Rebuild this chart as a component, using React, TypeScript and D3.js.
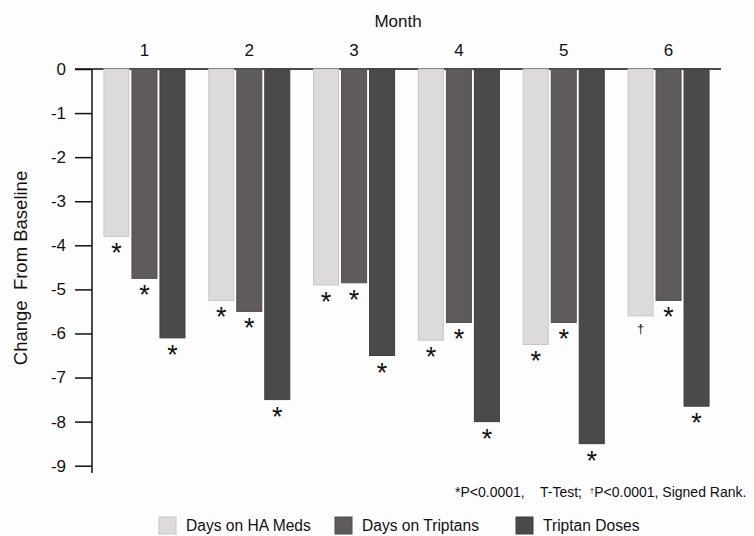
import { useEffect, useRef } from 'react';
import * as d3 from 'd3';

const months = ['1', '2', '3', '4', '5', '6'];
const seriesNames = ['Days on HA Meds', 'Days on Triptans', 'Triptan Doses'];
const haMeds = [-3.8, -5.25, -4.9, -6.15, -6.25, -5.6];
const triptanDays = [-4.75, -5.5, -4.85, -5.75, -5.75, -5.25];
const triptanDoses = [-6.1, -7.5, -6.5, -8.0, -8.5, -7.65];
const haMarks = ['*', '*', '*', '*', '*', '\u2020'];
const dayMarks = ['*', '*', '*', '*', '*', '*'];
const doseMarks = ['*', '*', '*', '*', '*', '*'];
const yTicks = [0, -1, -2, -3, -4, -5, -6, -7, -8, -9];

const colors = ['#dcdbd9', '#5f5b5a', '#4a4a4a'];
const strokes = ['#c8c7c5', '#524e4d', '#3e3e3e'];

const App = () => {
    const ref = useRef<HTMLDivElement>(null);

    useEffect(() => {
        const W = 754, H = 536;
        const font = '"Liberation Sans", Arial, sans-serif';
        const svg = d3.select(ref.current)
            .append('svg')
            .attr('width', W)
            .attr('height', H)
            .style('display', 'block')
            .style('font-family', font);

        svg.append('rect').attr('width', W).attr('height', H).attr('fill', '#fdfdfd');

        const values = [haMeds, triptanDays, triptanDoses];
        const marks = [haMarks, dayMarks, doseMarks];
        const data = months.map((m, i) => ({
            month: m,
            bars: seriesNames.map((s, j) => ({ key: s, idx: j, value: values[j][i], mark: marks[j][i] }))
        }));

        const x0 = d3.scaleBand().domain(months).range([92, 721]).paddingInner(0.227).paddingOuter(0.114);
        const x1 = d3.scaleBand().domain(seriesNames).range([0, x0.bandwidth()]).paddingInner(0.107);
        const y = d3.scaleLinear().domain([0, -9]).range([69, 465.7]);

        // top axis line
        svg.append('line').attr('x1', 75).attr('x2', 721).attr('y1', y(0)).attr('y2', y(0))
            .attr('stroke', '#111').attr('stroke-width', 1.5);

        const groups = svg.append('g').selectAll('g').data(data).enter().append('g')
            .attr('transform', d => `translate(${x0(d.month)},0)`);

        groups.selectAll('rect').data(d => d.bars).enter().append('rect')
            .attr('x', d => x1(d.key)!)
            .attr('y', y(0))
            .attr('width', x1.bandwidth())
            .attr('height', d => y(d.value) - y(0))
            .attr('fill', d => colors[d.idx])
            .attr('stroke', d => strokes[d.idx])
            .attr('stroke-width', 1);

        groups.selectAll('text.mark').data(d => d.bars).enter().append('text')
            .attr('class', 'mark')
            .attr('x', d => x1(d.key)! + x1.bandwidth() / 2)
            .attr('y', d => d.mark === '*' ? y(d.value) + 26 : y(d.value) + 17)
            .attr('text-anchor', 'middle')
            .attr('font-size', d => d.mark === '*' ? 27 : 13)
            .attr('fill', '#111')
            .text(d => d.mark);

        // month labels
        svg.append('g').selectAll('text').data(months).enter().append('text')
            .attr('x', d => x0(d)! + x0.bandwidth() / 2)
            .attr('y', 56)
            .attr('text-anchor', 'middle')
            .attr('font-size', 17)
            .attr('fill', '#111')
            .text(d => d);

        svg.append('text').attr('x', 398).attr('y', 27).attr('text-anchor', 'middle')
            .attr('font-size', 17).attr('fill', '#111').text('Month');

        // left axis
        const yAxis = svg.append('g').attr('transform', 'translate(92,0)')
            .call(d3.axisLeft(y).tickValues(yTicks).tickSize(17).tickPadding(9).tickFormat(d3.format('d')));
        yAxis.select('.domain').attr('d', `M0,${y(0)}V473`).attr('stroke', '#111').attr('stroke-width', 1.5);
        yAxis.selectAll('.tick line').attr('stroke', '#111').attr('stroke-width', 1.5);
        yAxis.selectAll('.tick text').attr('font-size', 17).attr('fill', '#111')
            .attr('font-family', font)
            .text(d => String(d));

        svg.append('text')
            .attr('transform', 'translate(27,268) rotate(-90)')
            .attr('text-anchor', 'middle')
            .attr('font-size', 18.5)
            .attr('fill', '#111')
            .style('white-space', 'pre')
            .text('Change  From Baseline');

        // footnote
        const foot = svg.append('text').attr('x', 455).attr('y', 497).attr('font-size', 14)
            .attr('fill', '#111').style('white-space', 'pre');
        foot.append('tspan').text('*');
        foot.append('tspan').text('P<0.0001,    T-Test;  ');
        foot.append('tspan').attr('font-size', 8).attr('dy', -4).text('\u2020');
        foot.append('tspan').attr('dy', 4).text('P<0.0001, Signed Rank.');

        // legend
        const legendX = [159, 335, 516];
        const lg = svg.append('g').selectAll('g').data(seriesNames).enter().append('g')
            .attr('transform', (d, i) => `translate(${legendX[i]},517)`);
        lg.append('rect').attr('width', 17).attr('height', 17)
            .attr('fill', (d, i) => colors[i]).attr('stroke', (d, i) => strokes[i]);
        lg.append('text').attr('x', 27).attr('y', 14).attr('font-size', 15.6).attr('fill', '#111')
            .text(d => d);

        return () => {
            d3.select(ref.current).select('svg').remove();
        };
    }, []);

    return <div ref={ref} style={{ position: 'absolute', left: 0, top: 0 }}></div>;
};

export default App;
